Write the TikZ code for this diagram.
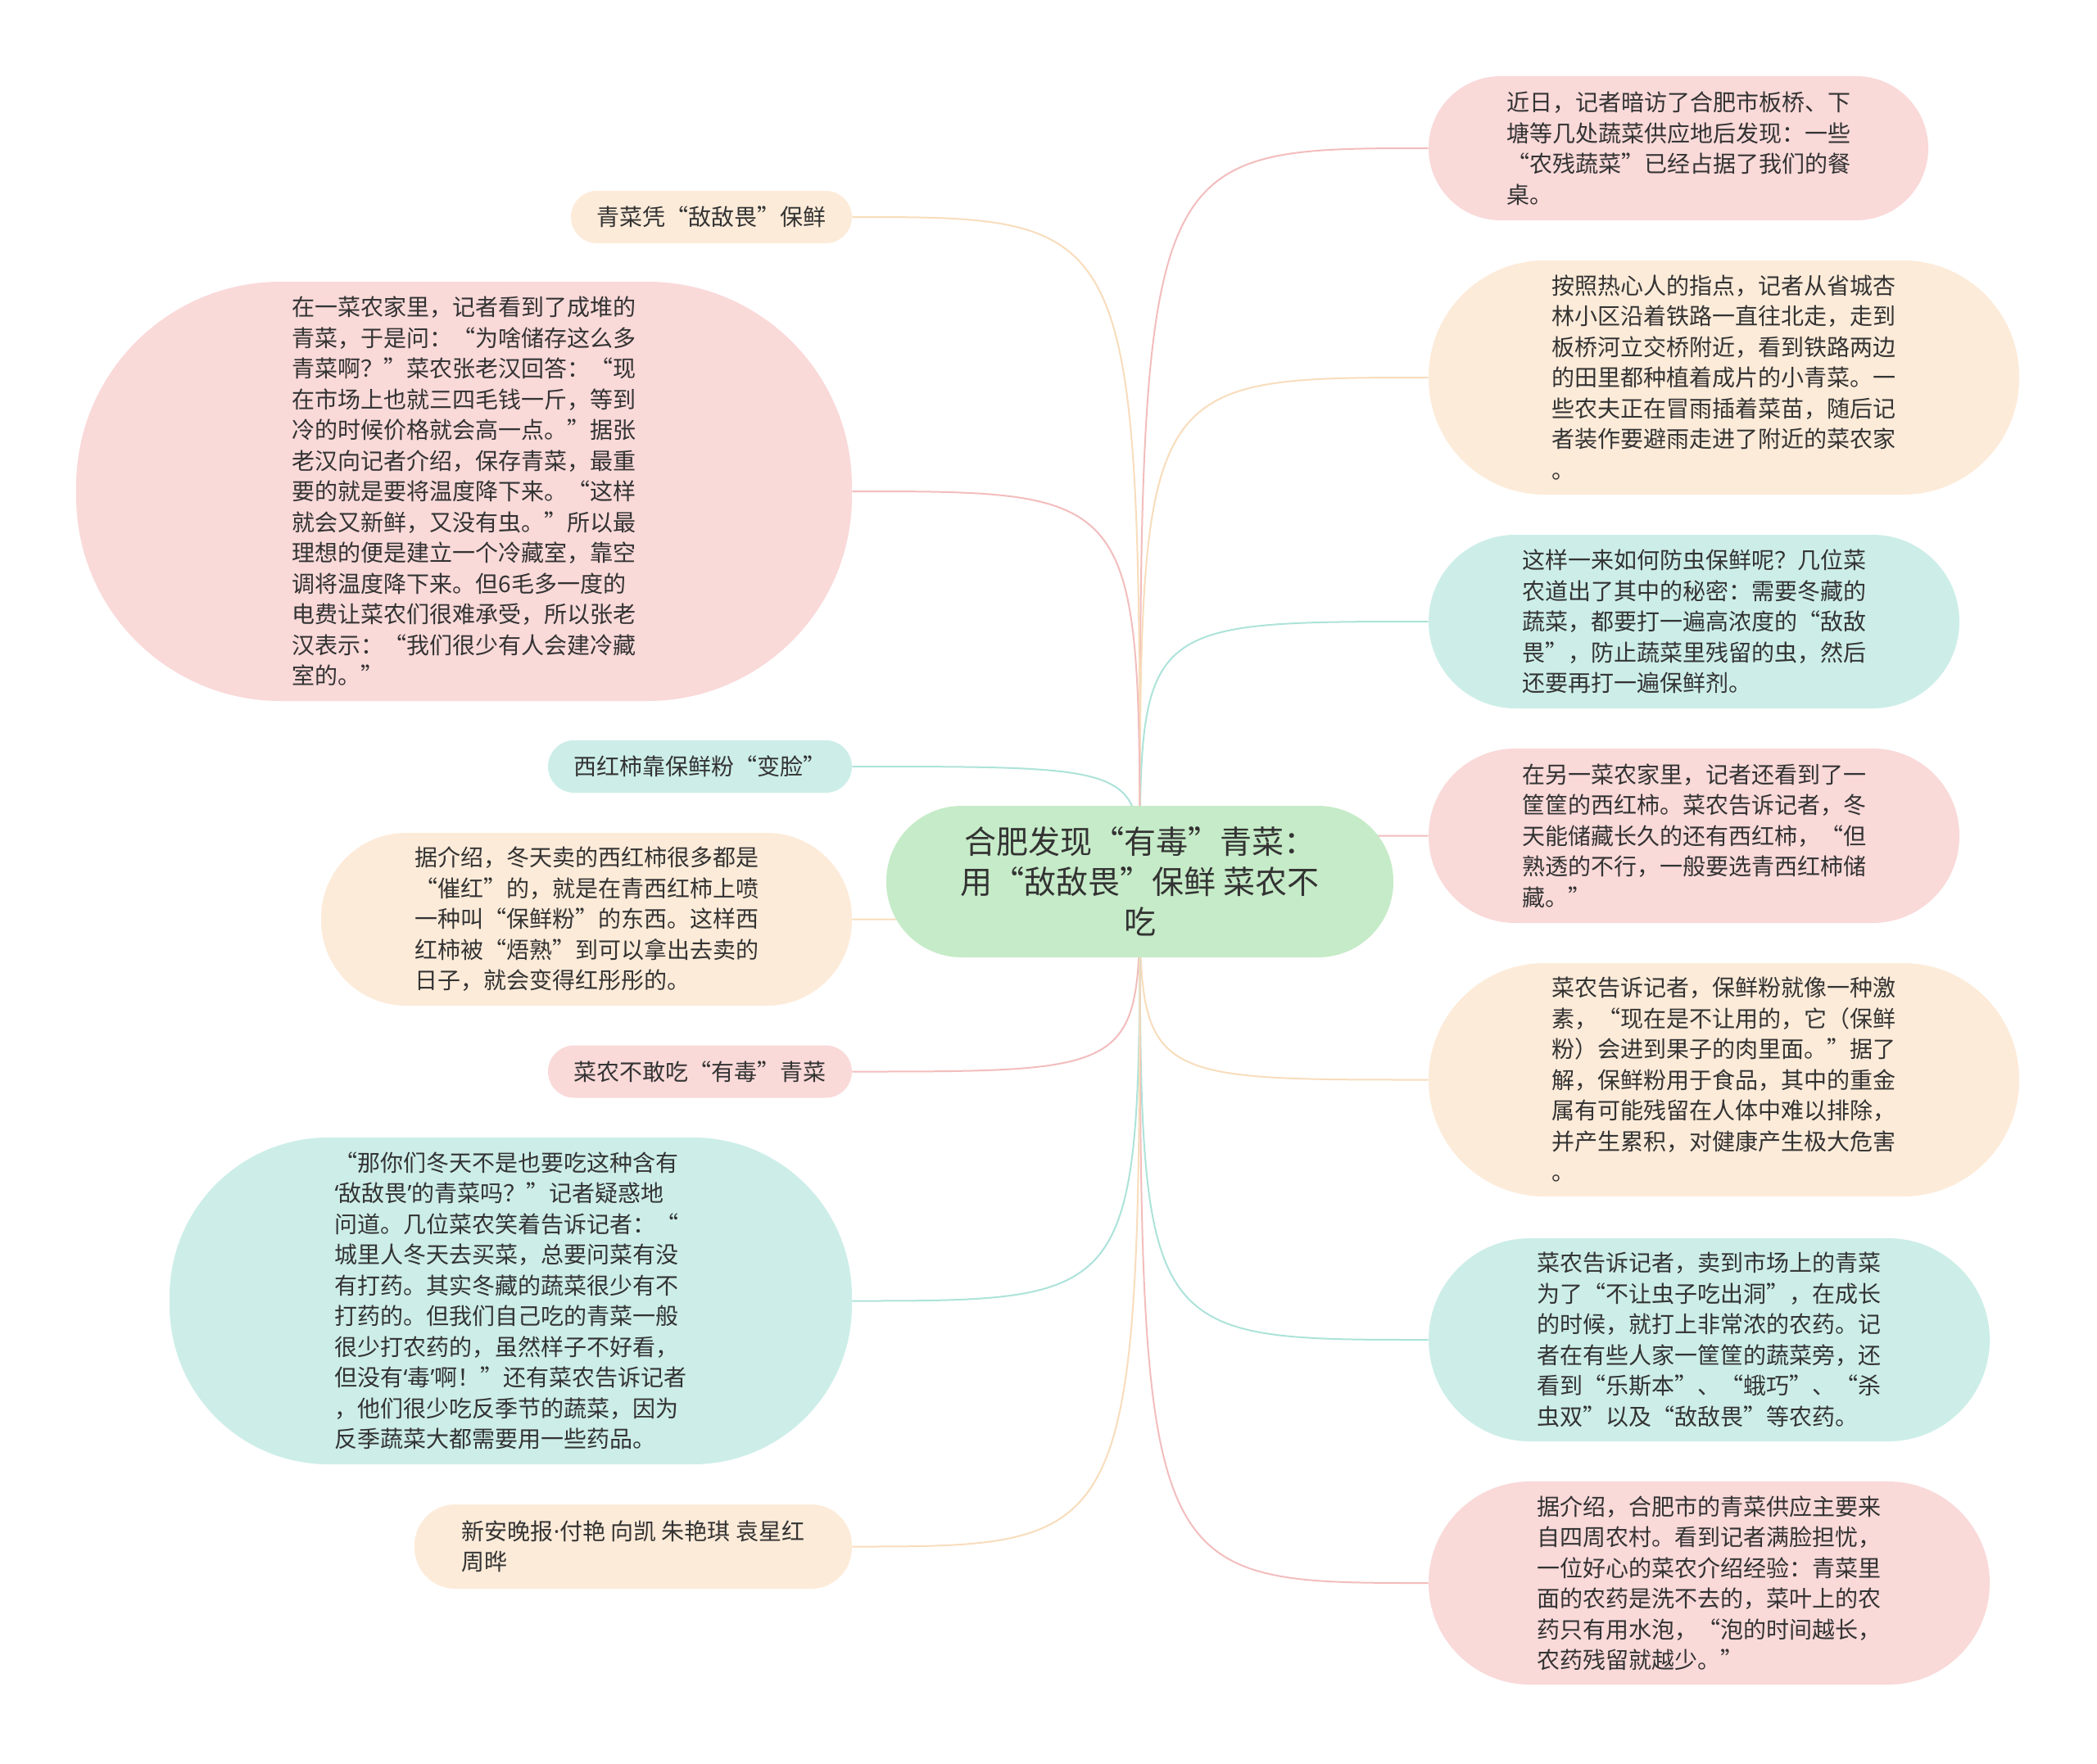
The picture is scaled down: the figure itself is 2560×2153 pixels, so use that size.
\documentclass[tikz,border=0pt]{standalone}
\usepackage{fontspec}
\setmainfont{Noto Sans CJK SC}
\newfontfamily\latinf{Noto Sans}
\pgfdeclarelayer{bg}
\pgfsetlayers{bg,main}
\definecolor{pinkf}{HTML}{FAD9D9}
\definecolor{peachf}{HTML}{FDEBD9}
\definecolor{mintf}{HTML}{CDEEE8}
\definecolor{greenf}{HTML}{C6EBC8}
\definecolor{pinke}{HTML}{F3BDBD}
\definecolor{peache}{HTML}{F8DDBC}
\definecolor{minte}{HTML}{ADE3DA}
\definecolor{txt}{HTML}{333333}
\begin{document}
\begin{tikzpicture}[x=0.5pt,y=-0.5pt,
  box/.style={rectangle, align=left, inner sep=0pt, text=txt, font=\fontsize{14}{18.75}\selectfont},
  pinkbox/.style={box, fill=pinkf},
  peachbox/.style={box, fill=peachf},
  mintbox/.style={box, fill=mintf},
  rootbox/.style={rectangle, align=center, inner sep=0pt, text=txt, fill=greenf, font=\fontsize{19.5}{24.5}\selectfont},
  link/.style={line width=1pt},
  pinkl/.style={link, draw=pinke},
  peachl/.style={link, draw=peache},
  mintl/.style={link, draw=minte}]
\useasboundingbox (0,0) rectangle (2560,2153);

% root
\node[rootbox, minimum width=309.5pt, minimum height=92.5pt, rounded corners=46pt] (root) at (1391.5,1076.5)
  {合肥发现“有毒”青菜：\\用“敌敌畏”保鲜 菜农不\\吃};

% right side
\node[pinkbox, minimum width=305pt, minimum height=88pt, rounded corners=44pt] (r1) at (2049,181)
  {近日，记者暗访了合肥市板桥、下\\塘等几处蔬菜供应地后发现：一些\\“农残蔬菜”已经占据了我们的餐\\桌。};
\node[peachbox, minimum width=360.5pt, minimum height=143pt, rounded corners=71pt] (r2) at (2104.5,461)
  {按照热心人的指点，记者从省城杏\\林小区沿着铁路一直往北走，走到\\板桥河立交桥附近，看到铁路两边\\的田里都种植着成片的小青菜。一\\些农夫正在冒雨插着菜苗，随后记\\者装作要避雨走进了附近的菜农家\\。};
\node[mintbox, minimum width=324pt, minimum height=106pt, rounded corners=53pt] (r3) at (2068,759)
  {这样一来如何防虫保鲜呢？几位菜\\农道出了其中的秘密：需要冬藏的\\蔬菜，都要打一遍高浓度的“敌敌\\畏”，防止蔬菜里残留的虫，然后\\还要再打一遍保鲜剂。};
\node[pinkbox, minimum width=324pt, minimum height=106.5pt, rounded corners=53pt] (r4) at (2068,1020.5)
  {在另一菜农家里，记者还看到了一\\筐筐的西红柿。菜农告诉记者，冬\\天能储藏长久的还有西红柿，“但\\熟透的不行，一般要选青西红柿储\\藏。”};
\node[peachbox, minimum width=360.5pt, minimum height=142.5pt, rounded corners=71pt] (r5) at (2104.5,1318.5)
  {菜农告诉记者，保鲜粉就像一种激\\素，“现在是不让用的，它（保鲜\\粉）会进到果子的肉里面。”据了\\解，保鲜粉用于食品，其中的重金\\属有可能残留在人体中难以排除，\\并产生累积，对健康产生极大危害\\。};
\node[mintbox, minimum width=342.5pt, minimum height=124pt, rounded corners=62pt] (r6) at (2086.5,1636)
  {菜农告诉记者，卖到市场上的青菜\\为了“不让虫子吃出洞”，在成长\\的时候，就打上非常浓的农药。记\\者在有些人家一筐筐的蔬菜旁，还\\看到“乐斯本”、“蛾巧”、“杀\\虫双”以及“敌敌畏”等农药。};
\node[pinkbox, minimum width=342.5pt, minimum height=124pt, rounded corners=62pt] (r7) at (2086.5,1933)
  {据介绍，合肥市的青菜供应主要来\\自四周农村。看到记者满脸担忧，\\一位好心的菜农介绍经验：青菜里\\面的农药是洗不去的，菜叶上的农\\药只有用水泡，“泡的时间越长，\\农药残留就越少。”};

% left side
\node[peachbox, minimum width=171.5pt, minimum height=32pt, rounded corners=16pt] (l1) at (868.5,265)
  {青菜凭“敌敌畏”保鲜};
\node[pinkbox, minimum width=473.5pt, minimum height=256pt, rounded corners=125pt] (l2) at (566.5,600)
  {在一菜农家里，记者看到了成堆的\\青菜，于是问：“为啥储存这么多\\青菜啊？”菜农张老汉回答：“现\\在市场上也就三四毛钱一斤，等到\\冷的时候价格就会高一点。”据张\\老汉向记者介绍，保存青菜，最重\\要的就是要将温度降下来。“这样\\就会又新鲜，又没有虫。”所以最\\理想的便是建立一个冷藏室，靠空\\调将温度降下来。但6毛多一度的\\电费让菜农们很难承受，所以张老\\汉表示：“我们很少有人会建冷藏\\室的。”};
\node[mintbox, minimum width=185.5pt, minimum height=32pt, rounded corners=16pt] (l3) at (854.5,936)
  {西红柿靠保鲜粉“变脸”};
\node[peachbox, minimum width=324pt, minimum height=105.5pt, rounded corners=52pt] (l4) at (716,1122.5)
  {据介绍，冬天卖的西红柿很多都是\\“催红”的，就是在青西红柿上喷\\一种叫“保鲜粉”的东西。这样西\\红柿被“焐熟”到可以拿出去卖的\\日子，就会变得红彤彤的。};
\node[pinkbox, minimum width=185.5pt, minimum height=32pt, rounded corners=16pt] (l5) at (854.5,1308.5)
  {菜农不敢吃“有毒”青菜};
\node[mintbox, minimum width=416.5pt, minimum height=199.5pt, rounded corners=97pt] (l6) at (623.5,1588.5)
  {“那你们冬天不是也要吃这种含有\\ {\latinf ‘}敌敌畏{\latinf ’}的青菜吗？”记者疑惑地\\问道。几位菜农笑着告诉记者：“\\城里人冬天去买菜，总要问菜有没\\有打药。其实冬藏的蔬菜很少有不\\打药的。但我们自己吃的青菜一般\\很少打农药的，虽然样子不好看，\\但没有{\latinf ‘}毒{\latinf ’}啊！”还有菜农告诉记者\\，他们很少吃反季节的蔬菜，因为\\反季蔬菜大都需要用一些药品。};
\node[peachbox, minimum width=267pt, minimum height=51.5pt, rounded corners=25pt] (l7) at (773,1888.5)
  {新安晚报{\latinf ·}付艳 向凯 朱艳琪 袁星红\\周晔};

% connectors and background
\begin{pgfonlayer}{bg}
\fill[white] (0,0) rectangle (2560,2153);
\draw[pinkl]  (root.center) .. controls (root.center |- r1.west) .. (r1.west);
\draw[peachl] (root.center) .. controls (root.center |- r2.west) .. (r2.west);
\draw[mintl]  (root.center) .. controls (root.center |- r3.west) .. (r3.west);
\draw[pinkl]  (root.center) .. controls (root.center |- r4.west) .. (r4.west);
\draw[peachl] (root.center) .. controls (root.center |- r5.west) .. (r5.west);
\draw[mintl]  (root.center) .. controls (root.center |- r6.west) .. (r6.west);
\draw[pinkl]  (root.center) .. controls (root.center |- r7.west) .. (r7.west);
\draw[peachl] (root.center) .. controls (root.center |- l1.east) .. (l1.east);
\draw[pinkl]  (root.center) .. controls (root.center |- l2.east) .. (l2.east);
\draw[mintl]  (root.center) .. controls (root.center |- l3.east) .. (l3.east);
\draw[peachl] (root.center) .. controls (root.center |- l4.east) .. (l4.east);
\draw[pinkl]  (root.center) .. controls (root.center |- l5.east) .. (l5.east);
\draw[mintl]  (root.center) .. controls (root.center |- l6.east) .. (l6.east);
\draw[peachl] (root.center) .. controls (root.center |- l7.east) .. (l7.east);
\end{pgfonlayer}
\end{tikzpicture}
\end{document}
